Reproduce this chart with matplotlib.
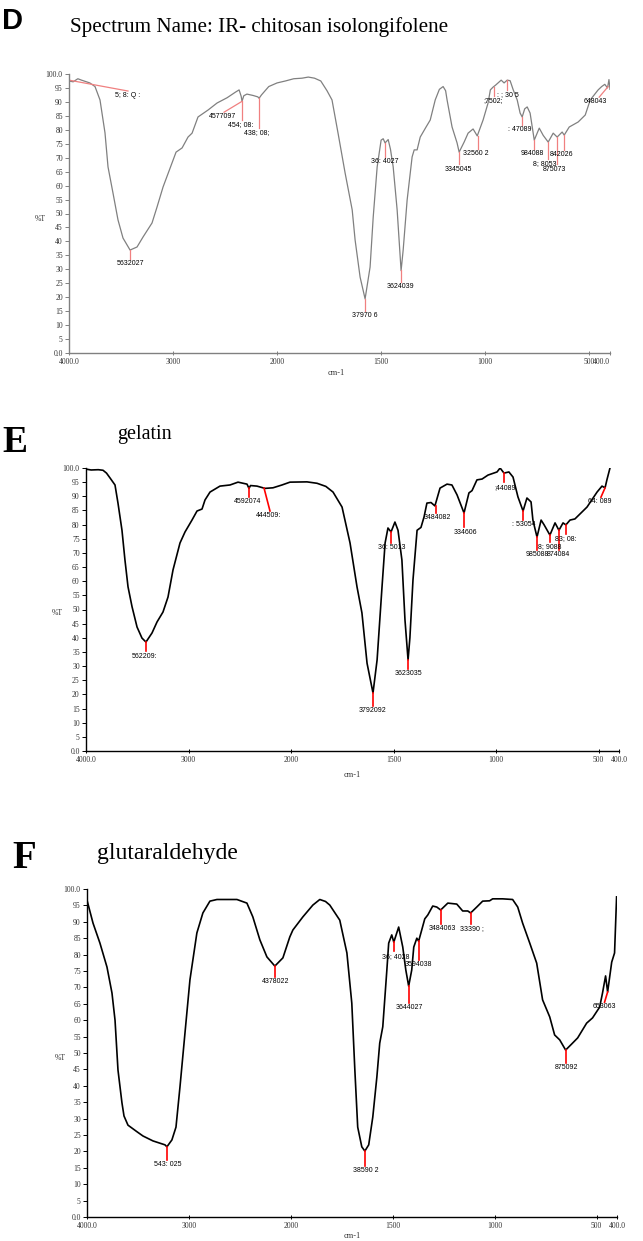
import numpy as np
import matplotlib
matplotlib.use("Agg")
import matplotlib.pyplot as plt

W, H = 643, 1241
SERIF = "Liberation Serif"
SANS = "Liberation Sans"

# ---------------- D : chitosan isolongifolene ----------------
d_wn = [4000, 3960, 3915, 3880, 3800, 3750, 3725, 3702, 3654, 3625, 3577, 3529, 3481,
        3413, 3346, 3288, 3202, 3154, 3096, 3010, 2971, 2913, 2856, 2817, 2760, 2663,
        2577, 2480, 2400, 2365, 2345, 2337, 2320, 2290, 2230, 2185, 2173, 2150, 2080,
        2000, 1960, 1920, 1880, 1850, 1820, 1790, 1760, 1736, 1707, 1673, 1639, 1625,
        1601, 1577, 1553, 1538, 1519, 1500, 1490, 1481, 1466, 1455, 1442, 1423, 1404,
        1394, 1375, 1351, 1341, 1327, 1312, 1284, 1264, 1240, 1220, 1202, 1190, 1183,
        1159, 1135, 1125, 1101, 1082, 1058, 1038, 1010, 986, 975, 962, 950, 923, 909,
        894, 880, 865, 846, 832, 822, 810, 798, 784, 764, 740, 721, 697, 673, 654, 630,
        620, 596, 553, 519, 495, 457, 440, 425, 412, 405, 400]
d_t = [97.5, 97.2, 98.3, 97.8, 96.8, 95.5, 93.0, 90.7, 78.9, 66.7, 57.3, 47.7, 41.2,
       36.9, 38.0, 41.6, 46.6, 52.3, 59.5, 68.1, 72.0, 73.5, 77.4, 78.8, 84.6, 87.1,
       89.6, 91.5, 93.5, 94.3, 92.0, 90.2, 92.2, 92.8, 92.3, 91.8, 91.3, 92.5, 95.5,
       96.8, 97.5, 98.3, 98.5, 98.9, 98.5, 97.5, 94.0, 90.7, 78.8, 64.5, 51.3, 40.5,
       27.2, 19.4, 30.8, 48.7, 66.7, 76.3, 76.8, 75.3, 76.5, 73.0, 66.7, 51.3, 29.5,
       36.9, 54.8, 70.3, 72.8, 72.8, 77.4, 81.0, 83.5, 90.7, 94.5, 95.5, 94.0, 90.7,
       81.0, 75.3, 72.0, 75.6, 78.8, 80.3, 77.8, 83.5, 89.6, 94.3, 95.3, 96.0, 97.8, 96.8,
       97.8, 97.6, 94.3, 90.7, 86.0, 84.6, 87.5, 88.2, 86.0, 76.3, 80.6, 78.0, 75.6, 78.8,
       77.4, 79.2, 78.1, 81.0, 82.8, 85.3, 90.7, 94.3, 95.5, 96.3, 95.0, 98.0, 94.5]
# peak labels: (text, line start x, T, line end x, T, text x)
d_peaks = [
    ("5; 8: Q :", 4000, 97.8, 3433, 93.9, 3433),
    ("4577097", 2337, 90.2, 2510, 86.3, 2529),
    ("454; 08:", 2337, 90.2, 2337, 83.5, 2346),
    ("438; 08;", 2173, 91.3, 2173, 80.6, 2192),
    ("5632027", 3413, 37.0, 3413, 33.7, 3413),
    ("37970 6", 1577, 19.4, 1577, 15.0, 1579),
    ("36: 4027", 1481, 75.3, 1481, 70.3, 1483),
    ("3624039", 1404, 29.7, 1404, 25.5, 1406),
    ("3345045", 1125, 72.0, 1125, 67.6, 1127),
    ("32560 2", 1036, 77.8, 1036, 73.0, 1046),
    (";7502;", 957, 95.3, 957, 92.0, 962),
    (": ; 30 5", 894, 97.8, 894, 94.3, 889),
    (": 47089", 822, 84.6, 822, 81.7, 832),
    ("984088", 764, 76.3, 764, 73.0, 774),
    ("8; 8053", 697, 75.6, 697, 69.7, 712),
    ("875073", 654, 77.4, 654, 67.6, 668),
    ("842026", 620, 78.1, 620, 72.8, 634),
    ("648043", 409, 95.5, 452, 91.7, 471),
]

# ---------------- E : gelatin ----------------
e_wn = [4000, 3950, 3880, 3834, 3800, 3766, 3717, 3688, 3649, 3620, 3590, 3551, 3502,
        3454, 3415, 3356, 3307, 3249, 3200, 3151, 3083, 3034, 2966, 2917, 2868, 2839,
        2790, 2693, 2595, 2517, 2429, 2410, 2395, 2332, 2254, 2176, 2088, 2010, 1922,
        1873, 1830, 1795, 1751, 1712, 1678, 1654, 1629, 1600, 1580, 1556, 1541, 1527,
        1512, 1493, 1478, 1459, 1444, 1429, 1420, 1405, 1385, 1366, 1351, 1337, 1317,
        1298, 1273, 1239, 1215, 1190, 1156, 1132, 1117, 1093, 1068, 1039, 995, 980, 961,
        937, 917, 893, 868, 849, 829, 820, 800, 780, 766, 737, 712, 693, 673, 659, 639,
        615, 556, 507, 483, 468, 459, 444]
e_t = [99.6, 99.3, 99.4, 99.2, 98.2, 96.5, 94.0, 87.6, 78.0, 67.5, 58.0, 51.0, 43.8,
       39.9, 38.5, 41.7, 45.6, 49.1, 54.4, 64.0, 73.5, 77.4, 81.6, 84.8, 85.5, 88.7,
       91.5, 93.6, 94.0, 95.0, 94.3, 92.8, 93.8, 93.6, 92.8, 93.0, 94.0, 95.0, 95.1,
       94.6, 93.5, 91.5, 86.2, 73.5, 58.0, 48.8, 31.0, 20.5, 32.2, 58.0, 73.5, 78.8,
       77.4, 80.9, 78.0, 67.5, 46.3, 32.2, 40.0, 60.4, 78.0, 79.0, 82.7, 87.6, 87.8,
       86.6, 92.9, 94.3, 94.0, 90.5, 84.1, 91.2, 92.0, 95.8, 96.1, 97.5, 98.6, 100.0, 98.2,
       98.6, 96.8, 89.8, 84.8, 89.4, 88.0, 81.6, 75.6, 81.6, 80.0, 76.3, 80.6, 78.0, 80.6,
       79.9, 81.6, 82.0, 86.2, 91.5, 93.6, 93.0, 95.8, 100.0]
e_peaks = [
    ("562209:", 3415, 38.5, 3415, 35.2, 3425),
    ("4592074", 2410, 92.8, 2410, 89.7, 2420),
    ("444509:", 2263, 92.9, 2205, 84.8, 2215),
    ("3792092", 1600, 20.5, 1600, 16.0, 1600),
    ("36: 5013", 1512, 77.4, 1512, 73.5, 1507),
    ("3623035", 1429, 32.2, 1429, 28.9, 1429),
    ("3484082", 1293, 86.6, 1293, 84.0, 1288),
    ("334606", 1156, 84.1, 1156, 79.0, 1151),
    (";44089", 961, 98.2, 961, 94.9, 956),
    (": 53054", 868, 84.8, 868, 81.6, 863),
    ("985088", 800, 75.6, 800, 71.1, 800),
    ("8; 9088", 737, 76.3, 737, 73.9, 737),
    ("874084", 693, 78.0, 693, 71.1, 698),
    ("83; 08:", 659, 79.9, 659, 76.7, 659),
    ("64: 089", 468, 93.0, 488, 89.7, 493),
]

# ---------------- F : glutaraldehyde ----------------
f_wn = [4000, 3941, 3873, 3804, 3755, 3725, 3696, 3657, 3637, 3598, 3510, 3451, 3353,
        3235, 3216, 3167, 3127, 3088, 3039, 2990, 2922, 2863, 2794, 2725, 2529, 2431,
        2373, 2304, 2235, 2157, 2078, 2010, 1990, 1941, 1892, 1858, 1830, 1809, 1760,
        1725, 1701, 1686, 1672, 1652, 1637, 1618, 1598, 1578, 1564, 1549, 1529, 1520,
        1505, 1495, 1471, 1451, 1436, 1422, 1407, 1397, 1382, 1373, 1358, 1343, 1328,
        1304, 1284, 1265, 1230, 1186, 1157, 1132, 1118, 1088, 1059, 1025, 1010, 961, 912,
        887, 863, 828, 794, 765, 730, 706, 681, 652, 623, 593, 549, 520, 485, 471, 456,
        446, 426, 412, 402]
f_t = [96.6, 89.6, 83.5, 76.2, 68.3, 60.0, 44.8, 34.8, 30.8, 28.0, 26.0, 24.7, 23.2,
       22.0, 21.4, 23.5, 27.4, 39.6, 56.0, 72.3, 86.6, 92.7, 96.3, 96.8, 96.8, 95.7,
       91.5, 84.5, 79.3, 76.5, 79.0, 85.4, 87.5, 91.5, 95.1, 96.8, 96.2, 95.1, 90.5,
       80.5, 65.2, 44.8, 27.4, 21.4, 20.1, 22.0, 30.5, 42.7, 53.0, 58.0, 75.3, 83.5,
       86.0, 83.8, 88.4, 82.3, 75.3, 70.4, 75.3, 82.3, 85.0, 84.1, 87.5, 90.9, 92.1,
       94.8, 94.5, 93.6, 95.7, 95.4, 93.3, 93.3, 92.7, 94.5, 96.3, 96.4, 97.0, 97.0, 96.8,
       94.5, 89.6, 83.5, 77.4, 66.2, 61.0, 55.5, 54.0, 50.9, 52.7, 54.6, 59.1, 60.7, 64.0,
       68.3, 73.5, 68.6, 77.7, 80.5, 97.6]
f_peaks = [
    ("4378022", 2157, 76.5, 2157, 73.2, 2147),
    ("543: 025", 3216, 21.4, 3216, 17.5, 3206),
    ("38590 2", 1637, 20.1, 1637, 15.6, 1632),
    ("36; 4028", 1495, 83.8, 1495, 81.0, 1485),
    ("3594038", 1373, 84.1, 1373, 78.5, 1373),
    ("3644027", 1422, 70.4, 1422, 65.2, 1417),
    ("3484063", 1265, 93.6, 1265, 89.3, 1255),
    ("33390 ;", 1118, 92.7, 1118, 89.3, 1113),
    ("875092", 652, 50.9, 652, 47.0, 647),
    ("653063", 446, 68.6, 461, 65.5, 461),
]

x_ticks = [4000, 3000, 2000, 1500, 1000, 500, 400]
x_ticklabels = ["4000.0", "3000", "2000", "1500", "1000", "500", "400.0"]
y_ticks = list(range(0, 101, 5))
y_ticklabels = ["0.0"] + [str(v) for v in y_ticks[1:-1]] + ["100.0"]


# IR spectrometer axis: scale doubles below 2000 cm-1
def fwd(x):
    x = np.asarray(x, dtype=float)
    return np.where(x >= 2000, x, 2 * x - 2000)


def inv(y):
    y = np.asarray(y, dtype=float)
    return np.where(y >= 2000, y, (y + 2000) / 2)


def px_rect(l, r, top, bot):
    return [l / W, 1 - bot / H, (r - l) / W, (bot - top) / H]


def spectrum(rect, wn, t, peaks, line_c, lw, lead_c, lead_lw, axis_c, d_style=False):
    ax = fig.add_axes(rect)
    ax.set_xscale("function", functions=(fwd, inv))
    ax.plot(wn, t, color=line_c, lw=lw)
    for txt, x0, t0, x1, t1, xt in peaks:
        ax.plot([x0, x1], [t0, t1], color=lead_c, lw=lead_lw)
        ax.text(xt, t1 - 0.4, txt, ha="center", va="top", fontsize=5,
                family=SANS, color="black")
    ax.set_xlim(4000, 400)
    ax.set_ylim(0, 100)
    ax.set_xticks(x_ticks)
    ax.set_xticklabels(x_ticklabels, family=SERIF, fontsize=5.5)
    ax.set_yticks(y_ticks)
    ax.set_yticklabels(y_ticklabels, family=SERIF, fontsize=5.5)
    ax.tick_params(axis="y", direction="out", length=3, width=0.7, pad=1.5, colors=axis_c,
                   labelcolor="#333333")
    ax.tick_params(axis="x", direction="inout", length=3, width=0.7, pad=2, colors=axis_c,
                   labelcolor="#333333")
    if d_style:
        ax.get_xticklabels()[-1].set_ha("right")
    for s in ("top", "right"):
        ax.spines[s].set_visible(False)
    for s in ("left", "bottom"):
        ax.spines[s].set_color(axis_c)
        ax.spines[s].set_linewidth(1.0)
    ax.patch.set_alpha(0)
    return ax


def ftext(x, y, s, **kw):
    fig.text(x / W, 1 - y / H, s, **kw)


fig = plt.figure(figsize=(W / 100, H / 100), dpi=100)

spectrum(px_rect(69, 610, 74, 353), d_wn, d_t, d_peaks, "#808080", 0.9,
         "#f08080", 0.9, "#808080", d_style=True)
spectrum(px_rect(86, 619, 468, 751), e_wn, e_t, e_peaks, "black", 1.2,
         "#ff0000", 1.2, "black")
spectrum(px_rect(87, 617, 889, 1217), f_wn, f_t, f_peaks, "black", 1.2,
         "#ff0000", 1.2, "black")

ftext(2, 21, "D", ha="left", va="center", fontsize=21, fontweight="bold", family=SANS)
ftext(70, 27, "Spectrum Name: IR- chitosan isolongifolene", ha="left", va="center",
      fontsize=15.2, family=SERIF)
ftext(2, 442, "E", ha="left", va="center", fontsize=27, fontweight="bold", family=SERIF)
ftext(117, 434, "gelatin", ha="left", va="center", fontsize=14.5, family=SERIF)
ftext(12, 859, "F", ha="left", va="center", fontsize=28, fontweight="bold", family=SERIF)
ftext(97, 853, "glutaraldehyde", ha="left", va="center", fontsize=17, family=SERIF)

for x, y in [(40, 219), (57, 613), (60, 1058)]:
    ftext(x, y, "%T", ha="center", va="center", fontsize=5.5, family=SERIF, color="#333333")
for x, y in [(336, 373), (352, 775), (352, 1236)]:
    ftext(x, y, "cm-1", ha="center", va="center", fontsize=6, family=SERIF, color="#333333")

fig.savefig("out.png", dpi=100)
